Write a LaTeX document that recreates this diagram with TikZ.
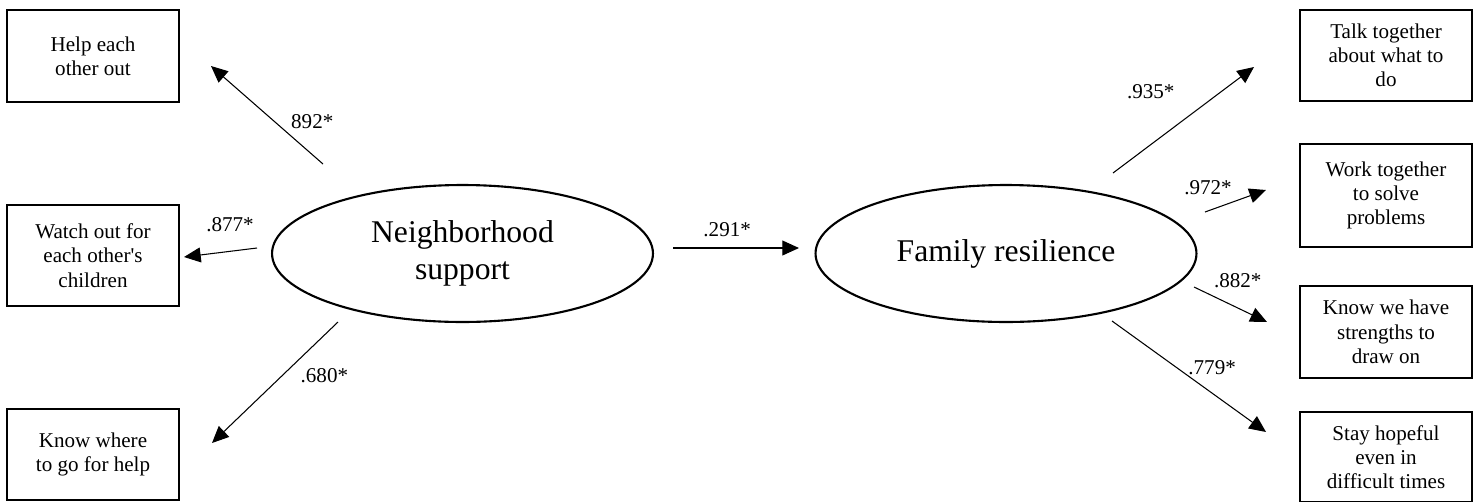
\documentclass[tikz,border=0pt]{standalone}
\usepackage{fontspec}
\setmainfont{Liberation Serif}
\usetikzlibrary{shapes.geometric,arrows.meta,positioning}

\begin{document}
\begin{tikzpicture}[x=0.02cm,y=-0.02cm,
	item/.style={shape=rectangle,draw=black,line width=1.1pt,minimum width=3.44cm,align=center,inner sep=2pt,font=\fontsize{12}{13.8}\selectfont},
	factor/.style={shape=ellipse,draw=black,line width=1.2pt,minimum width=7.62cm,minimum height=2.74cm,inner sep=0pt,align=center,font=\fontsize{18}{20.7}\selectfont},
	load/.style={-{Triangle[length=9.5pt,width=8.5pt]},line width=0.6pt},
	lbl/.style={inner sep=1pt,font=\fontsize{12}{14}\selectfont}]

	\useasboundingbox (0,0) rectangle (1477,501);

	\node[factor] (ns) at (462.5,253.5) {Neighborhood\\support};
	\node[factor] (fr) at (1006,253.5)  {Family resilience};

	\node[item,minimum height=1.84cm] (help)  at (93,56)    {Help each\\other out};
	\node[item,minimum height=2.02cm] (watch) at (93,255.5) {Watch out for\\each other\textquotesingle s\\children};
	\node[item,minimum height=1.82cm] (where) at (93,454.5) {Know where\\to go for help};

	\node[item,minimum height=1.82cm] (talk)  at (1386,55.5)  {Talk together\\about what to\\do};
	\node[item,minimum height=2.06cm] (work)  at (1386,195.5) {Work together\\to solve\\problems};
	\node[item,minimum height=1.84cm] (str)   at (1386,332)   {Know we have\\strengths to\\draw on};
	\node[item,minimum height=1.80cm] (hope)  at (1386,457)   {Stay hopeful\\even in\\difficult times};

	\coordinate (h1) at (323,164);  \coordinate (h2) at (211,66);
	\coordinate (w1) at (257,248);  \coordinate (w2) at (184,257);
	\coordinate (g1) at (338,322);  \coordinate (g2) at (212,443);
	\coordinate (r1) at (673,248);  \coordinate (r2) at (799,248);
	\coordinate (t1) at (1113,173); \coordinate (t2) at (1254,67);
	\coordinate (k1) at (1205,212); \coordinate (k2) at (1266,190);
	\coordinate (s1) at (1194,287); \coordinate (s2) at (1267,322);
	\coordinate (y1) at (1112,321); \coordinate (y2) at (1266,432);

	\path[load] (h1) edge node[lbl,pos=.43,right=8pt] {892*} (h2);
	\path[load] (w1) edge node[lbl,pos=.37,above=10pt] {.877*} (w2);
	\path[load] (g1) edge node[lbl,pos=.44,right=9pt] {.680*} (g2);
	\path[load] (r1) edge node[lbl,pos=.43,above=5pt] {.291*} (r2);
	\path[load] (t1) edge node[lbl,pos=.465,above left=13pt and 1pt] {.935*} (t2);
	\path[load] (k1) edge node[lbl,pos=.05,above=8pt] {.972*} (k2);
	\path[load] (s1) edge node[lbl,pos=.6,above=10pt] {.882*} (s2);
	\path[load] (y1) edge node[lbl,pos=.65,above=9pt] {.779*} (y2);

\end{tikzpicture}
\end{document}
